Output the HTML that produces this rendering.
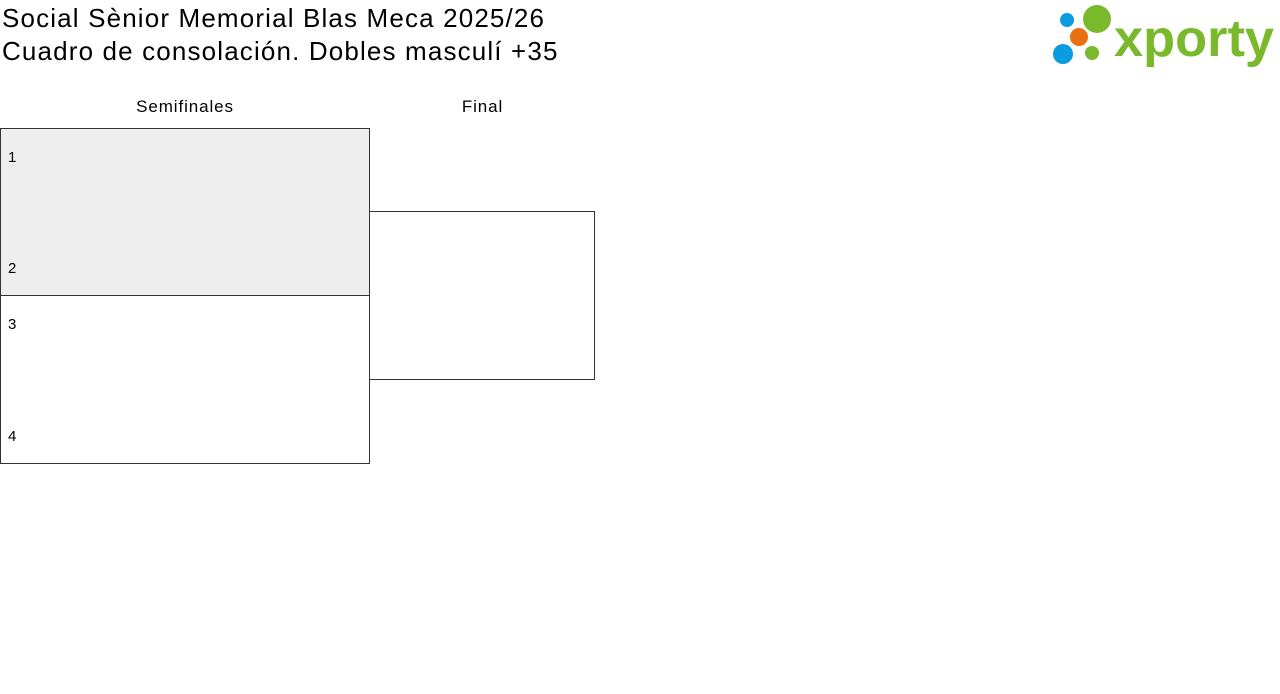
<!DOCTYPE html>
<html><head><meta charset="utf-8"><style>
body{margin:0;width:1280px;height:694px;background:#fff;font-family:"Liberation Sans",sans-serif;position:relative;overflow:hidden}
.t{position:absolute;left:2px;font-size:26px;color:#000;line-height:32px;letter-spacing:1.15px}
.h{position:absolute;top:97px;font-size:17px;text-align:center;letter-spacing:0.9px}
.b{position:absolute;border:1px solid #333;box-sizing:border-box}
.n{position:absolute;left:8px;font-size:15px}
</style></head><body>
<div class="t" style="top:2px">Social Sènior Memorial Blas Meca 2025/26</div>
<div class="t" style="top:35px">Cuadro de consolación. Dobles masculí +35</div>
<svg style="position:absolute;left:1040px;top:0" width="240" height="75">
<circle cx="27" cy="20" r="7" fill="#0b9be0"/>
<circle cx="57" cy="19" r="14" fill="#7ab92c"/>
<circle cx="39" cy="37" r="9" fill="#e8700e"/>
<circle cx="23" cy="54" r="10" fill="#0b9be0"/>
<circle cx="52" cy="53" r="7" fill="#7ab92c"/>
<text x="74" y="56" font-family="Liberation Sans" font-weight="bold" font-size="52" fill="#7ab92c" textLength="160" lengthAdjust="spacingAndGlyphs">xporty</text>
</svg>
<div class="h" style="left:0;width:370px">Semifinales</div>
<div class="h" style="left:370px;width:225px">Final</div>
<div class="b" style="left:0;top:128px;width:370px;height:168px;background:#eee"></div>
<div class="b" style="left:0;top:295px;width:370px;height:169px"></div>
<div class="b" style="left:369px;top:211px;width:226px;height:169px"></div>
<div class="n" style="top:149px">1</div>
<div class="n" style="top:260px">2</div>
<div class="n" style="top:316px">3</div>
<div class="n" style="top:428px">4</div>
</body></html>
